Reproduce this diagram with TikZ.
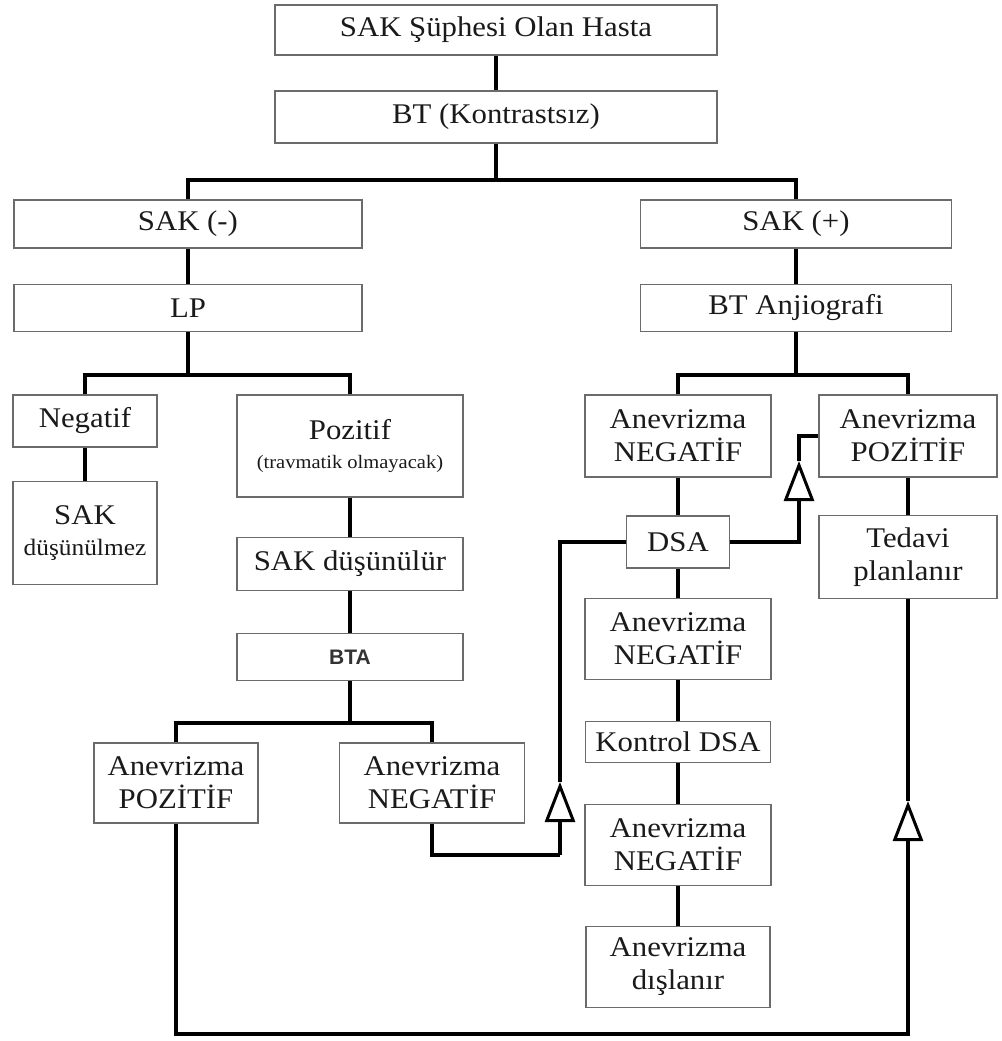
\documentclass[tikz,border=0pt]{standalone}
\usepackage{fontspec}
\setmainfont[FakeStretch=1.08]{Liberation Serif}
\newfontfamily\btafont{Liberation Sans}
\usetikzlibrary{arrows.meta}
\definecolor{txt}{HTML}{1A1A1A}
\tikzset{
  box/.style={draw=black!58, line width=1.6pt, fill=white, inner sep=0pt,
    align=center, text=txt, font=\fontsize{28.5}{33}\selectfont},
  conn/.style={line width=4.3pt, black, line join=miter},
  openarrow/.style={-{Triangle[open,length=40pt,width=30pt,line width=3pt]}}
}
\begin{document}
\begin{tikzpicture}[x=1pt,y=-1pt]
\useasboundingbox (0,0) rectangle (1001,1041);
\fill[white] (0,0) rectangle (1001,1041);

% nodes
\node[box, minimum width=442pt, minimum height=50pt] (top) at (496,30) {SAK Şüphesi Olan Hasta};
\node[box, minimum width=442pt, minimum height=52pt] (bt) at (496,117) {BT (Kontrastsız)};
\node[box, minimum width=348pt, minimum height=48pt] (sakneg) at (188,224) {SAK (-)};
\node[box, minimum width=311pt, minimum height=48pt] (sakpos) at (796,224) {SAK (+)};
\node[box, minimum width=348pt, minimum height=47pt] (lp) at (188,308) {LP};
\node[box, minimum width=311pt, minimum height=47pt] (btanj) at (796,308) {BT Anjiografi};
\node[box, minimum width=144pt, minimum height=52pt] (negatif) at (85,421) {Negatif};
\node[box, minimum width=144pt, minimum height=103pt] (sakdn) at (85,533) {SAK\\[-2pt]{\fontsize{23.5}{28}\selectfont düşünülmez}};
\node[box, minimum width=226pt, minimum height=102pt] (pozitif) at (350,446) {Pozitif\\[-4pt]{\fontsize{19}{22}\selectfont (travmatik olmayacak)}};
\node[box, minimum width=226pt, minimum height=53pt] (sakdl) at (350,564) {SAK düşünülür};
\node[box, minimum width=226pt, minimum height=47pt, font=\btafont\bfseries\fontsize{21}{23}\selectfont, text=black!80] (bta) at (350,657) {BTA};
\node[box, minimum width=164pt, minimum height=80pt] (aposL) at (176,783) {Anevrizma\\POZİTİF};
\node[box, minimum width=185pt, minimum height=80pt] (anegL) at (432,783) {Anevrizma\\NEGATİF};
\node[box, minimum width=186pt, minimum height=82pt] (anegR1) at (678,436) {Anevrizma\\NEGATİF};
\node[box, minimum width=178pt, minimum height=82pt] (aposR) at (908,436) {Anevrizma\\POZİTİF};
\node[box, minimum width=103pt, minimum height=52pt] (dsa) at (678,542) {DSA};
\node[box, minimum width=178pt, minimum height=83pt] (tedavi) at (908,557) {Tedavi\\planlanır};
\node[box, minimum width=186pt, minimum height=81pt] (anegR2) at (678,639) {Anevrizma\\NEGATİF};
\node[box, minimum width=185pt, minimum height=41pt] (kontrol) at (678,742) {Kontrol DSA};
\node[box, minimum width=186pt, minimum height=81pt] (anegR3) at (678,845) {Anevrizma\\NEGATİF};
\node[box, minimum width=184pt, minimum height=81pt] (disl) at (678,967) {Anevrizma\\dışlanır};

% branch points
\coordinate (b1) at (496,180);
\coordinate (b2) at (188,375);
\coordinate (b3) at (796,375);
\coordinate (b4) at (350,723);

% tree connectors
\draw[conn] (top) -- (bt);
\draw[conn] (bt) -- (b1);
\draw[conn] (sakneg.north) |- (b1) -| (sakpos.north);
\draw[conn] (sakneg) -- (lp);
\draw[conn] (sakpos) -- (btanj);
\draw[conn] (lp) -- (b2);
\draw[conn] (negatif.north) |- (b2) -| (pozitif.north);
\draw[conn] (btanj) -- (b3);
\draw[conn] (anegR1.north) |- (b3) -| (aposR.north);
\draw[conn] (negatif) -- (sakdn);
\draw[conn] (pozitif) -- (sakdl);
\draw[conn] (sakdl) -- (bta);
\draw[conn] (bta) -- (b4);
\draw[conn] (aposL.north) |- (b4) -| (anegL.north);
\draw[conn] (aposR) -- (tedavi);
\draw[conn] (anegR1) -- (dsa);
\draw[conn] (dsa) -- (anegR2);
\draw[conn] (anegR2) -- (kontrol);
\draw[conn] (kontrol) -- (anegR3);
\draw[conn] (anegR3) -- (disl);

% loop 1: left NEGATIF -> DSA
\coordinate (l1a) at (560,855);
\coordinate (l1tip) at (560,782);
\draw[conn] (anegL.south) |- (l1a);
\draw[conn,openarrow] (l1a) -- (l1tip);
\draw[conn] (l1tip) |- (dsa.west);

% loop 2: DSA -> right POZITIF
\coordinate (l2s) at (799,520);
\coordinate (l2tip) at (799,461);
\draw[conn] (dsa.east) -| (l2s);
\draw[conn,openarrow] (l2s) -- (l2tip);
\draw[conn] (l2tip) |- (aposR.west);

% loop 3: left POZITIF -> Tedavi
\coordinate (l3c) at (908,1034);
\coordinate (l3s) at (908,880);
\coordinate (l3tip) at (908,801);
\draw[conn] (aposL.south) |- (l3c) -- (l3s);
\draw[conn,openarrow] (l3s) -- (l3tip);
\draw[conn] (l3tip) -- (tedavi.south);
\end{tikzpicture}
\end{document}
